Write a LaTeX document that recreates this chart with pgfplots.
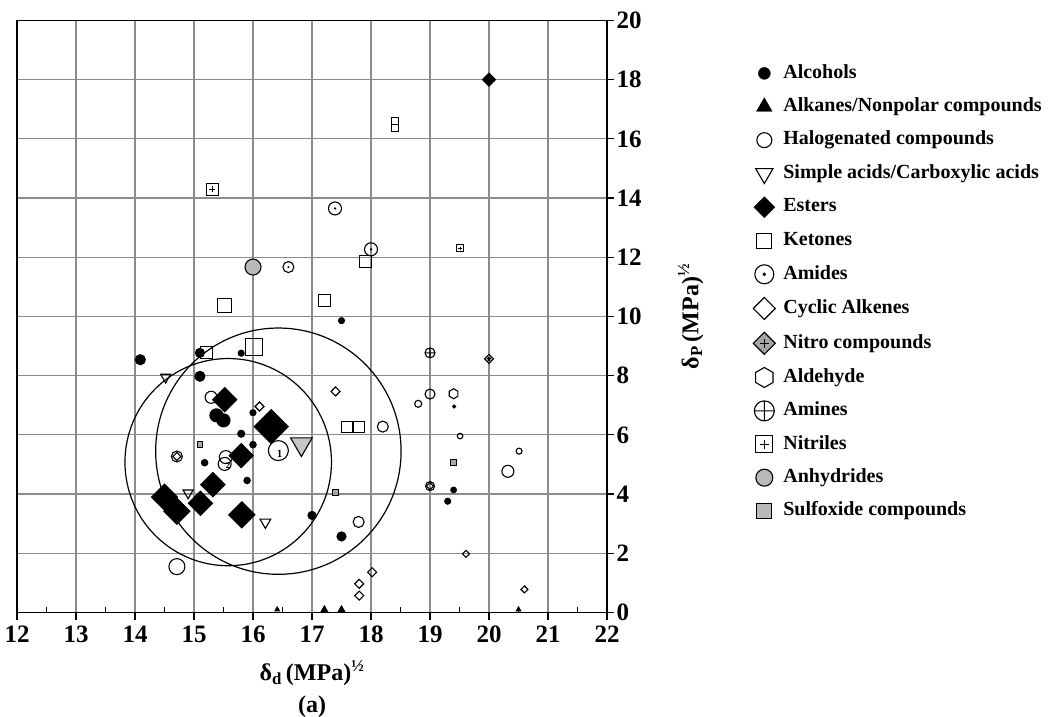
\documentclass[border=0pt]{standalone}
\usepackage{fontspec}
\setmainfont{Liberation Serif}
\usepackage{pgfplots}
\pgfplotsset{compat=1.18}
\usepackage{pgfplotstable}

% ---------- custom plot marks ----------
\pgfdeclareplotmark{rdiamond}{%
  \pgfpathmoveto{\pgfqpoint{0pt}{\pgfplotmarksize}}%
  \pgfpathlineto{\pgfqpoint{\pgfplotmarksize}{0pt}}%
  \pgfpathlineto{\pgfqpoint{0pt}{-\pgfplotmarksize}}%
  \pgfpathlineto{\pgfqpoint{-\pgfplotmarksize}{0pt}}%
  \pgfpathclose\pgfusepathqstroke}
\pgfdeclareplotmark{rdiamond*}{%
  \pgfpathmoveto{\pgfqpoint{0pt}{\pgfplotmarksize}}%
  \pgfpathlineto{\pgfqpoint{\pgfplotmarksize}{0pt}}%
  \pgfpathlineto{\pgfqpoint{0pt}{-\pgfplotmarksize}}%
  \pgfpathlineto{\pgfqpoint{-\pgfplotmarksize}{0pt}}%
  \pgfpathclose\pgfusepathqfillstroke}
\pgfdeclareplotmark{dtriangle}{%
  \pgfpathmoveto{\pgfqpoint{0pt}{-\pgfplotmarksize}}%
  \pgfpathlineto{\pgfqpoint{0.866\pgfplotmarksize}{0.5\pgfplotmarksize}}%
  \pgfpathlineto{\pgfqpoint{-0.866\pgfplotmarksize}{0.5\pgfplotmarksize}}%
  \pgfpathclose\pgfusepathqstroke}
\pgfdeclareplotmark{dtriangle*}{%
  \pgfpathmoveto{\pgfqpoint{0pt}{-\pgfplotmarksize}}%
  \pgfpathlineto{\pgfqpoint{0.866\pgfplotmarksize}{0.5\pgfplotmarksize}}%
  \pgfpathlineto{\pgfqpoint{-0.866\pgfplotmarksize}{0.5\pgfplotmarksize}}%
  \pgfpathclose\pgfusepathqfillstroke}
\pgfdeclareplotmark{hexagon}{%
  \pgfpathmoveto{\pgfpointpolar{90}{\pgfplotmarksize}}%
  \pgfpathlineto{\pgfpointpolar{150}{\pgfplotmarksize}}%
  \pgfpathlineto{\pgfpointpolar{210}{\pgfplotmarksize}}%
  \pgfpathlineto{\pgfpointpolar{270}{\pgfplotmarksize}}%
  \pgfpathlineto{\pgfpointpolar{330}{\pgfplotmarksize}}%
  \pgfpathlineto{\pgfpointpolar{30}{\pgfplotmarksize}}%
  \pgfpathclose\pgfusepathqstroke}
\pgfdeclareplotmark{odot}{%
  \pgfpathcircle{\pgfpointorigin}{\pgfplotmarksize}\pgfusepathqstroke
  \pgfpathcircle{\pgfpointorigin}{0.2\pgfplotmarksize}\pgfusepathqfill}
\pgfdeclareplotmark{sqplus}{%
  \pgfpathrectangle{\pgfqpoint{-\pgfplotmarksize}{-\pgfplotmarksize}}{\pgfqpoint{2\pgfplotmarksize}{2\pgfplotmarksize}}%
  \pgfusepathqstroke
  \pgfpathmoveto{\pgfqpoint{-0.5\pgfplotmarksize}{0pt}}\pgfpathlineto{\pgfqpoint{0.5\pgfplotmarksize}{0pt}}%
  \pgfpathmoveto{\pgfqpoint{0pt}{-0.5\pgfplotmarksize}}\pgfpathlineto{\pgfqpoint{0pt}{0.5\pgfplotmarksize}}%
  \pgfusepathqstroke}
\pgfdeclareplotmark{nitro}{%
  \pgfpathmoveto{\pgfqpoint{0pt}{\pgfplotmarksize}}%
  \pgfpathlineto{\pgfqpoint{\pgfplotmarksize}{0pt}}%
  \pgfpathlineto{\pgfqpoint{0pt}{-\pgfplotmarksize}}%
  \pgfpathlineto{\pgfqpoint{-\pgfplotmarksize}{0pt}}%
  \pgfpathclose\pgfusepathqfillstroke
  \pgfpathmoveto{\pgfqpoint{-0.4\pgfplotmarksize}{0pt}}\pgfpathlineto{\pgfqpoint{0.4\pgfplotmarksize}{0pt}}%
  \pgfpathmoveto{\pgfqpoint{0pt}{-0.4\pgfplotmarksize}}\pgfpathlineto{\pgfqpoint{0pt}{0.4\pgfplotmarksize}}%
  \pgfusepathqstroke}

% ---------- data: x = delta_d, y = delta_p, s = marker size (pt) ----------
\pgfplotstableread{
x y s
14.09 8.54 5
15.10 8.77 4.5
15.10 7.98 5
15.38 6.66 6.5
15.50 6.49 6.5
16.00 6.75 3
15.80 6.04 3.5
16.00 5.67 3.2
15.18 5.06 3.2
15.90 4.46 3.2
15.80 8.76 3
17.50 9.86 3
17.00 3.28 4
17.50 2.57 4.5
19.40 4.14 2.8
19.30 3.76 3
19.41 6.96 1.5
}\alcohols
\pgfplotstableread{
x y s
16.41 0.10 2.5
17.21 0.10 3.5
17.50 0.10 3.5
20.50 0.10 2.5
}\alkanes
\pgfplotstableread{
x y s
15.29 7.27 6
15.54 5.25 6.5
15.52 5.02 6.5
16.43 5.47 10
14.71 1.55 8
17.79 3.06 5.5
18.20 6.28 5.5
19.00 7.38 5
18.80 7.05 3.5
19.51 5.96 2.8
20.51 5.45 3
20.32 4.77 6
14.71 5.27 5.5
19.00 4.27 4.5
}\halogenated
\pgfplotstableread{
x y s
14.52 7.95 5.8
14.90 4.04 5.8
16.21 3.05 6.2
}\acids
\pgfplotstableread{
x y s
16.82 5.69 12.5
}\acidsgray
\pgfplotstableread{
x y s
20.00 18.00 6.5
15.52 7.19 12
16.31 6.28 17
15.80 5.30 12
15.32 4.32 12
14.50 3.90 13
14.71 3.42 13
15.11 3.69 12
15.81 3.30 13
}\esters
\pgfplotstableread{
x y s
18.40 16.60 3.5
18.40 16.38 3.5
17.90 11.87 6
17.21 10.55 6
15.52 10.37 7
16.02 8.96 8.5
15.21 8.79 6
17.60 6.26 5.5
17.80 6.26 5.5
}\ketones
\pgfplotstableread{
x y s
17.39 13.65 6.5
18.00 12.27 6.5
16.60 11.67 5.5
}\amides
\pgfplotstableread{
x y s
16.11 6.96 4.5
17.40 7.47 4.5
18.02 1.36 4.5
17.80 0.97 4.5
17.80 0.57 4.5
19.61 1.98 3.5
20.60 0.78 3.5
14.71 5.27 4
19.00 4.27 3.5
}\cyclic
\pgfplotstableread{
x y s
20.00 8.57 4.5
}\nitro
\pgfplotstableread{
x y s
19.40 7.39 5
}\aldehyde
\pgfplotstableread{
x y s
19.00 8.77 5
}\amines
\pgfplotstableread{
x y s
15.31 14.30 6
19.51 12.30 3.5
}\nitriles
\pgfplotstableread{
x y s
16.00 11.67 8
}\anhydrides
\pgfplotstableread{
x y s
15.10 5.67 2.8
17.40 4.06 2.8
19.40 5.06 2.8
}\sulfoxide

\pgfplotsset{
  pts/.style n args={2}{only marks, scatter, forget plot, mark=#1,
    scatter/use mapped color={draw=black, fill=#2},
    visualization depends on={\thisrow{s}\as\ms},
    scatter/@pre marker code/.append style={/tikz/mark size=\ms},
    mark options={line width=1.1pt}},
}

\begin{document}
\begin{tikzpicture}[font=\fontsize{20}{24}\selectfont\bfseries]
\begin{axis}[
  at={(17pt,104.5pt)}, anchor=south west,
  scale only axis, width=590pt, height=592pt,
  xmin=12, xmax=22, ymin=0, ymax=20,
  xtick={12,...,22}, ytick={0,2,...,20},
  minor x tick num=1,
  xtick pos=left, ytick pos=right,
  yticklabel pos=right,
  tick align=outside,
  major tick length=7pt, minor tick length=5pt,
  minor tick style={yshift=5pt},
  every tick/.style={black, line width=1.2pt},
  grid=major,
  major grid style={gray!90, line width=1.2pt},
  axis line style={line width=1.5pt},
  clip=false,
  /pgf/number format/assume math mode=true,
  ticklabel style={font=\fontsize{25}{29}\selectfont\bfseries},
  xticklabel style={yshift=-3pt},
  yticklabel style={xshift=-1pt},
  xlabel={δ\textsubscript{d}\,(MPa)\textsuperscript{½}\\[4pt](a)},
  xlabel style={align=center, at={(axis description cs:0.5,-0.075)}, anchor=north,
    font=\fontsize{24}{28}\selectfont\bfseries},
  ylabel={δ\textsubscript{P}\,(MPa)\textsuperscript{½}},
  ylabel style={at={(axis description cs:1.142,0.5)}, anchor=center,
    font=\fontsize{24}{28}\selectfont\bfseries},
  legend cell align=left,
  legend style={at={(1.248,0.928)}, anchor=north west, draw=none, fill=none,
    inner sep=0pt, outer sep=0pt,
    font=\fontsize{20}{24}\selectfont\bfseries,
    nodes={inner sep=1pt, text height=14pt, text depth=4.5pt},
    row sep=12.9pt,
    /tikz/every odd column/.append style={column sep=7pt}},
]
% Hansen solubility circles
\draw[line width=1.2pt] (axis cs:15.58,5.08) ellipse [x radius=1.75, y radius=3.5];
\draw[line width=1.2pt] (axis cs:16.43,5.45) ellipse [x radius=2.08, y radius=4.16];

\addplot[pts={*}{black}] table {\alcohols};
\addplot[pts={triangle*}{black}] table {\alkanes};
\addplot[pts={o}{black}] table {\halogenated};
\addplot[pts={dtriangle}{black}] table {\acids};
\addplot[pts={dtriangle*}{gray!45}] table {\acidsgray};
\addplot[pts={rdiamond*}{black}] table {\esters};
\addplot[pts={square}{black}] table {\ketones};
\addplot[pts={odot}{black}] table {\amides};
\addplot[pts={rdiamond}{black}] table {\cyclic};
\addplot[pts={nitro}{gray!70}] table {\nitro};
\addplot[pts={hexagon}{black}] table {\aldehyde};
\addplot[pts={oplus}{white}] table {\amines};
\addplot[pts={sqplus}{black}] table {\nitriles};
\addplot[pts={*}{gray!55}] table {\anhydrides};
\addplot[pts={square*}{gray!70}] table {\sulfoxide};

% sphere centre labels
\node[font=\fontsize{11}{12}\selectfont\bfseries] at (axis cs:16.45,5.35) {1};
\node[font=\fontsize{9}{10}\selectfont\bfseries] at (axis cs:15.58,4.98) {2};

% legend
\addlegendimage{only marks, mark=*, draw=black, fill=black, mark size=6pt}
\addlegendentry{Alcohols}
\addlegendimage{only marks, mark=triangle*, draw=black, fill=black, mark size=9pt}
\addlegendentry{Alkanes/Nonpolar compounds}
\addlegendimage{only marks, mark=o, draw=black, mark size=7.5pt, mark options={line width=1.1pt}}
\addlegendentry{Halogenated compounds}
\addlegendimage{only marks, mark=dtriangle, draw=black, mark size=10pt, mark options={line width=1.1pt}}
\addlegendentry{Simple acids/Carboxylic acids}
\addlegendimage{only marks, mark=rdiamond*, draw=black, fill=black, mark size=10.5pt}
\addlegendentry{Esters}
\addlegendimage{only marks, mark=square, draw=black, mark size=7.5pt, mark options={line width=1.1pt}}
\addlegendentry{Ketones}
\addlegendimage{only marks, mark=odot, draw=black, fill=black, mark size=9.5pt, mark options={line width=1.1pt}}
\addlegendentry{Amides}
\addlegendimage{only marks, mark=rdiamond, draw=black, mark size=11pt, mark options={line width=1.1pt}}
\addlegendentry{Cyclic Alkenes}
\addlegendimage{only marks, mark=nitro, draw=black, fill=gray!70, mark size=11pt, mark options={line width=1.1pt}}
\addlegendentry{Nitro compounds}
\addlegendimage{only marks, mark=hexagon, draw=black, mark size=10pt, mark options={line width=1.1pt}}
\addlegendentry{Aldehyde}
\addlegendimage{only marks, mark=oplus, draw=black, fill=white, mark size=10pt, mark options={line width=1.1pt}}
\addlegendentry{Amines}
\addlegendimage{only marks, mark=sqplus, draw=black, mark size=8.5pt, mark options={line width=1.1pt}}
\addlegendentry{Nitriles}
\addlegendimage{only marks, mark=*, draw=black, fill=gray!55, mark size=8.5pt, mark options={line width=1.1pt}}
\addlegendentry{Anhydrides}
\addlegendimage{only marks, mark=square*, draw=black, fill=gray!55, mark size=7.5pt, mark options={line width=1.1pt}}
\addlegendentry{Sulfoxide compounds}
\end{axis}
\pgfresetboundingbox
\path[use as bounding box] (0,0) rectangle (1057pt,717pt);
\end{tikzpicture}
\end{document}
